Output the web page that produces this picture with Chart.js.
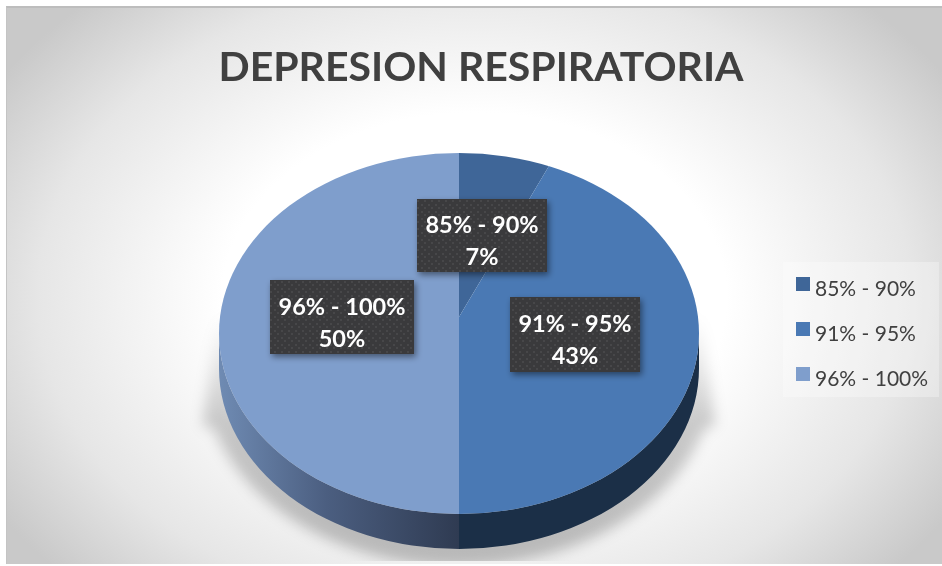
<!DOCTYPE html>
<html>
<head>
<meta charset="utf-8">
<title>DEPRESION RESPIRATORIA</title>
<script src="https://cdn.jsdelivr.net/npm/chart.js@4"></script>
<style>
  html, body { margin: 0; padding: 0; background: #fff; overflow: hidden; }
  #frame { position: absolute; left: 6px; top: 6px; width: 936px; height: 558px;
           border-top: 2px solid #bdbdbd; border-left: 1px solid #c4c4c4; box-sizing: border-box;
           background: radial-gradient(ellipse 560px 410px at 50% 52%, #ffffff 45%, #e6e6e6 78%, #c9c9c9 100%); }
  #wrap { position: absolute; left: 0; top: 0; width: 942px; height: 566px; }
</style>
</head>
<body>
<div id="frame"></div>
<div id="wrap"><canvas id="chart" width="942" height="566"></canvas></div>
<script>
// datos del grafico
const titleText = 'DEPRESION RESPIRATORIA';
const categories = ['85% - 90%', '91% - 95%', '96% - 100%'];
const values = [7, 43, 50];
const sliceColors = ['#3f6698', '#4a79b4', '#7f9ecc'];

// geometria del pastel en perspectiva
const TOP = { x: 459, y: 333.5, rx: 240, ry: 180.5 };
const APEX = { x: 459, y: 317, squash: 0.79 };
const DEPTH = 35;

// posicion de cada etiqueta
const labelBoxes = [
    { x: 417, y: 199, w: 130, h: 73 },
    { x: 510, y: 297, w: 130, h: 75 },
    { x: 270, y: 280, w: 144, h: 74 }
];

function dotPattern(ctx) {
    const c = document.createElement('canvas');
    c.width = 7; c.height = 7;
    const p = c.getContext('2d');
    p.fillStyle = '#3a3a3c';
    p.fillRect(0, 0, 7, 7);
    p.fillStyle = 'rgba(255,255,255,0.07)';
    p.fillRect(1, 1, 2, 2);
    p.fillRect(4, 4, 2, 2);
    return ctx.createPattern(c, 'repeat');
}

function wallFill(ctx, index) {
    if (index === 2) {
        const g = ctx.createLinearGradient(TOP.x - TOP.rx, 0, TOP.x, 0);
        g.addColorStop(0, '#6f8bb3');
        g.addColorStop(0.45, '#4b5e80');
        g.addColorStop(1, '#2f3b52');
        return g;
    }
    return '#1b2f47';
}

const pieDepth = {
    id: 'pieDepth',
    beforeDatasetsDraw(chart) {
        const ctx = chart.ctx;
        const arcs = chart.getDatasetMeta(0).data;

        // sombra proyectada
        ctx.save();
        ctx.beginPath();
        ctx.rect(0, 0, 942, 561);
        ctx.clip();
        ctx.filter = 'blur(7px)';
        const sh = ctx.createLinearGradient(0, 315, 0, 560);
        sh.addColorStop(0, 'rgba(0,0,0,0)');
        sh.addColorStop(0.45, 'rgba(0,0,0,0.2)');
        sh.addColorStop(1, 'rgba(0,0,0,0.24)');
        ctx.fillStyle = sh;
        ctx.beginPath();
        ctx.moveTo(TOP.x - TOP.rx - 2, 315);
        ctx.lineTo(TOP.x - TOP.rx - 16, 425);
        ctx.ellipse(TOP.x, 372, 256, 194, 0, Math.PI - 0.3, 0.3, true);
        ctx.lineTo(TOP.x + TOP.rx + 16, 425);
        ctx.lineTo(TOP.x + TOP.rx + 2, 315);
        ctx.closePath();
        ctx.fill();
        ctx.restore();

        // pared lateral, solo la parte frontal de cada sector
        arcs.forEach((arc, i) => {
            const lo = Math.max(arc.startAngle, 0);
            const hi = Math.min(arc.endAngle, Math.PI);
            if (hi <= lo) return;
            ctx.beginPath();
            ctx.ellipse(TOP.x, TOP.y + DEPTH, TOP.rx, TOP.ry, 0, lo, hi);
            ctx.ellipse(TOP.x, TOP.y, TOP.rx, TOP.ry, 0, hi, lo, true);
            ctx.closePath();
            ctx.fillStyle = wallFill(ctx, i);
            ctx.fill();
        });

        // cara superior: sectores de Chart.js recortados a la elipse
        const first = arcs[0];
        ctx.save();
        ctx.beginPath();
        ctx.ellipse(TOP.x, TOP.y, TOP.rx, TOP.ry, 0, 0, Math.PI * 2);
        ctx.clip();
        ctx.translate(APEX.x, APEX.y);
        ctx.scale(1, APEX.squash);
        ctx.translate(-first.x, -first.y);
    },
    afterDatasetsDraw(chart) {
        chart.ctx.restore();
    }
};

const pieLabels = {
    id: 'pieLabels',
    afterDraw(chart) {
        const ctx = chart.ctx;
        const pattern = dotPattern(ctx);
        labelBoxes.forEach((b, i) => {
            ctx.save();
            ctx.shadowColor = 'rgba(0,0,0,0.45)';
            ctx.shadowBlur = 6;
            ctx.shadowOffsetX = 2;
            ctx.shadowOffsetY = 3;
            ctx.fillStyle = pattern;
            ctx.fillRect(b.x, b.y, b.w, b.h);
            ctx.restore();

            const cx = b.x + b.w / 2;
            ctx.fillStyle = '#ffffff';
            ctx.font = 'bold 23.5px Lato';
            ctx.textAlign = 'center';
            ctx.textBaseline = 'middle';
            ctx.fillText(categories[i], cx, b.y + b.h / 2 - 10);
            ctx.fillText(values[i] + '%', cx, b.y + b.h / 2 + 22);
        });
    }
};

const sideLegend = {
    id: 'sideLegend',
    beforeDraw(chart) {
        const ctx = chart.ctx;
        ctx.fillStyle = 'rgba(255,255,255,0.3)';
        ctx.fillRect(783, 262, 156, 135);
    },
    afterDraw(chart) {
        const ctx = chart.ctx;
        ctx.font = '21px Lato';
        ctx.textAlign = 'left';
        ctx.textBaseline = 'middle';
        categories.forEach((name, i) => {
            const y = 284 + i * 45;
            ctx.fillStyle = sliceColors[i];
            ctx.fillRect(796, y - 7, 14, 14);
            ctx.fillStyle = '#404040';
            ctx.fillText(name, 815, y + 5);
        });
    }
};

new Chart(document.getElementById('chart').getContext('2d'), {
    type: 'pie',
    data: {
        labels: categories,
        datasets: [{
            data: values,
            backgroundColor: sliceColors,
            borderWidth: 0,
            radius: 330,
            clip: false
        }]
    },
    options: {
        responsive: false,
        animation: false,
        layout: { padding: { left: 20 } },
        plugins: {
            legend: { display: false },
            tooltip: { enabled: false },
            title: {
                display: true,
                text: titleText,
                color: '#404040',
                font: { family: 'Lato', size: 41, weight: 'bold', lineHeight: 1 },
                padding: { top: 47, bottom: 10 }
            }
        }
    },
    plugins: [pieDepth, sideLegend, pieLabels]
});
</script>
</body>
</html>
